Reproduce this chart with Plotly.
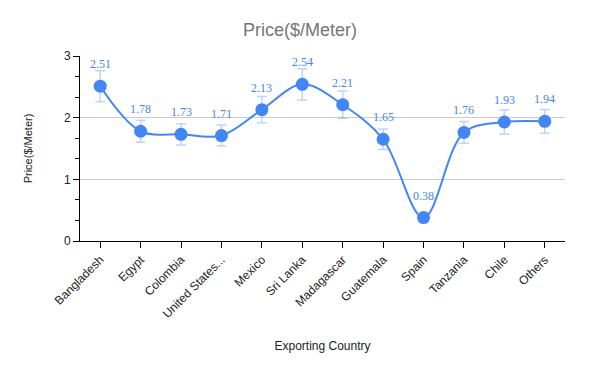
import plotly.graph_objects as go

countries = ["Bangladesh", "Egypt", "Colombia", "United States...", "Mexico", "Sri Lanka",
             "Madagascar", "Guatemala", "Spain", "Tanzania", "Chile", "Others"]
prices = [2.51, 1.78, 1.73, 1.71, 2.13, 2.54, 2.21, 1.65, 0.38, 1.76, 1.93, 1.94]
error_percent = 10

blue = "#4285F4"

fig = go.Figure()
fig.add_trace(go.Scatter(
    x=countries, y=prices, mode="lines+markers",
    line=dict(color=blue, width=2, shape="spline", smoothing=1.0),
    marker=dict(color=blue, size=13),
    error_y=dict(type="percent", value=error_percent, color="rgba(66,133,244,0.35)",
                 thickness=1.5, width=5),
    showlegend=False,
))

for c, p in zip(countries, prices):
    fig.add_annotation(x=c, y=p, text=f"{p:.2f}", showarrow=False, yshift=22,
                       font=dict(family="Liberation Serif", size=12, color=blue))

fig.update_layout(
    width=600, height=371,
    margin=dict(l=72, r=43, t=48, b=138, autoexpand=False),
    paper_bgcolor="white", plot_bgcolor="white",
    font=dict(family="Liberation Sans, Arial", color="#222"),
    title=dict(text="Price($/Meter)", x=(300 - 8) / 600, xanchor="center", y=1 - 22 / 371,
               yref="container", yanchor="middle", font=dict(size=18, color="#757575")),
)
fig.update_xaxes(
    type="category", range=[-0.5, 11.5], automargin=False,
    showline=True, linecolor="black", linewidth=1,
    ticks="outside", ticklen=6, tickcolor="black",
    tickangle=-45, tickfont=dict(size=12, color="#222"),
    showgrid=False,
    title=dict(text="Exporting Country", font=dict(size=12, color="#222"), standoff=21),
)
fig.update_yaxes(
    range=[0, 3], dtick=1, tick0=0, automargin=False,
    showline=True, linecolor="black", linewidth=1,
    ticks="outside", ticklen=6, tickcolor="black",
    tickfont=dict(size=12, color="#222"),
    showgrid=True, gridcolor="#cccccc", gridwidth=1,
    zeroline=False,
    minor=dict(dtick=1/3, ticks="outside", ticklen=4, tickcolor="black", showgrid=False),
    title=dict(text="Price($/Meter)", font=dict(size=11, color="#222"), standoff=29),
)

fig.write_html("out.html")
